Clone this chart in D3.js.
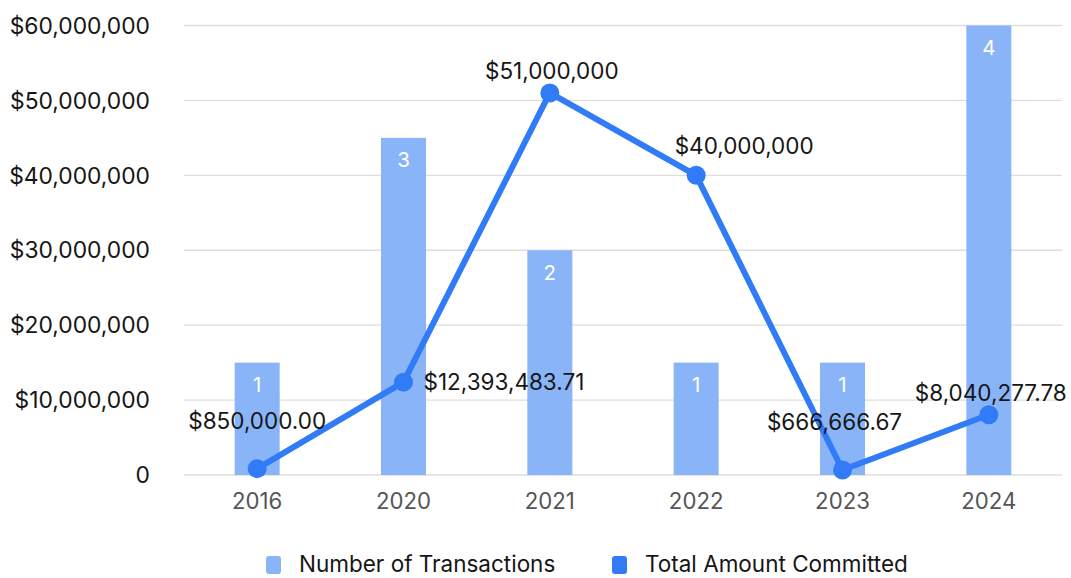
<!DOCTYPE html>
<html><head><meta charset="utf-8">
<script src="https://cdn.jsdelivr.net/npm/d3@7"></script>
<style>body{margin:0;background:#fff}svg{display:block;font-family:Inter,"Noto Sans",sans-serif}</style>
</head><body><svg id="c" width="1071" height="578"></svg>
<script>
const years = ["2016","2020","2021","2022","2023","2024"];
const transactions = [1,3,2,1,1,4];
const amounts = [850000.00,12393483.71,51000000,40000000,666666.67,8040277.78];
const amountLabels = ["$850,000.00","$12,393,483.71","$51,000,000","$40,000,000","$666,666.67","$8,040,277.78"];
const labelPlacement = ["high","right","above","aboveRight","highLeft","above"];
const yTicks = [0,10000000,20000000,30000000,40000000,50000000,60000000];
const seriesNames = ["Number of Transactions","Total Amount Committed"];

const svg = d3.select("#c");
const m = {l:184, r:1062, t:25.5, b:475};
const x = d3.scaleBand().domain(years).range([m.l,m.r]).paddingInner(0).paddingOuter(0);
const y = d3.scaleLinear().domain([0,60000000]).range([m.b,m.t]);
const yBar = d3.scaleLinear().domain([0,4]).range([m.b,m.t]);
const barColor = "#8ab4f8", lineColor = "#317cf6";
const FS = 22.5;

// grid
svg.append("g").selectAll("line").data(yTicks).join("line")
  .attr("x1",m.l).attr("x2",m.r).attr("y1",d=>y(d)).attr("y2",d=>y(d))
  .attr("stroke","#dedede").attr("stroke-width",1.3);

// y axis labels
const fmt = d => d===0 ? "0" : "$" + d3.format(",")(d);
svg.append("g").selectAll("text").data(yTicks).join("text")
  .attr("x",150).attr("y",d=>y(d)).attr("dy","0.36em").attr("text-anchor","end")
  .attr("font-size",FS+0.3).attr("fill","#161616").text(fmt);

// x axis labels
svg.append("g").selectAll("text").data(years).join("text")
  .attr("x",d=>x(d)+x.bandwidth()/2).attr("y",501).attr("dy","0.36em").attr("text-anchor","middle")
  .attr("font-size",FS-0.3).attr("fill","#555").text(d=>d);

// bars
const bw = 45;
const bars = years.map((yr,i)=>({yr, v:transactions[i]}));
svg.append("g").selectAll("rect").data(bars).join("rect")
  .attr("x",d=>x(d.yr)+x.bandwidth()/2-bw/2).attr("width",bw)
  .attr("y",d=>yBar(d.v)).attr("height",d=>m.b-yBar(d.v)).attr("fill",barColor);
svg.append("g").selectAll("text").data(bars).join("text")
  .attr("x",d=>x(d.yr)+x.bandwidth()/2).attr("y",d=>yBar(d.v)+22).attr("dy","0.36em")
  .attr("text-anchor","middle").attr("font-size",20.5).attr("fill","#fff").text(d=>d.v);

// line
const pts = years.map((yr,i)=>({yr, v:amounts[i], lab:amountLabels[i], pl:labelPlacement[i]}));
const line = d3.line().x(d=>x(d.yr)+x.bandwidth()/2).y(d=>y(d.v));
svg.append("path").datum(pts).attr("d",line).attr("fill","none")
  .attr("stroke",lineColor).attr("stroke-width",6).attr("stroke-linejoin","round");
svg.append("g").selectAll("circle").data(pts).join("circle")
  .attr("cx",d=>x(d.yr)+x.bandwidth()/2).attr("cy",d=>y(d.v)).attr("r",9.5).attr("fill",lineColor);

const place = {
  high:{dx:0,dy:-48,a:"middle"},
  highLeft:{dx:-8,dy:-48,a:"middle"},
  right:{dx:20,dy:0,a:"start"},
  above:{dx:2,dy:-22,a:"middle"},
  aboveRight:{dx:48,dy:-29,a:"middle"}
};
svg.append("g").selectAll("text").data(pts).join("text")
  .attr("x",d=>x(d.yr)+x.bandwidth()/2+place[d.pl].dx)
  .attr("y",d=>y(d.v)+place[d.pl].dy)
  .attr("dy","0.36em")
  .attr("text-anchor",d=>place[d.pl].a)
  .attr("font-size",FS).attr("fill","#161616").text(d=>d.lab);

// legend
const leg = svg.append("g");
const legItems = [{n:seriesNames[0],c:barColor,x:266},{n:seriesNames[1],c:lineColor,x:612}];
leg.selectAll("rect").data(legItems).join("rect")
  .attr("x",d=>d.x).attr("y",556).attr("width",15).attr("height",18).attr("rx",3).attr("fill",d=>d.c);
leg.selectAll("text").data(legItems).join("text")
  .attr("x",d=>d.x+33).attr("y",564).attr("dy","0.36em").attr("font-size",FS).attr("fill","#161616").text(d=>d.n);
</script></body></html>
